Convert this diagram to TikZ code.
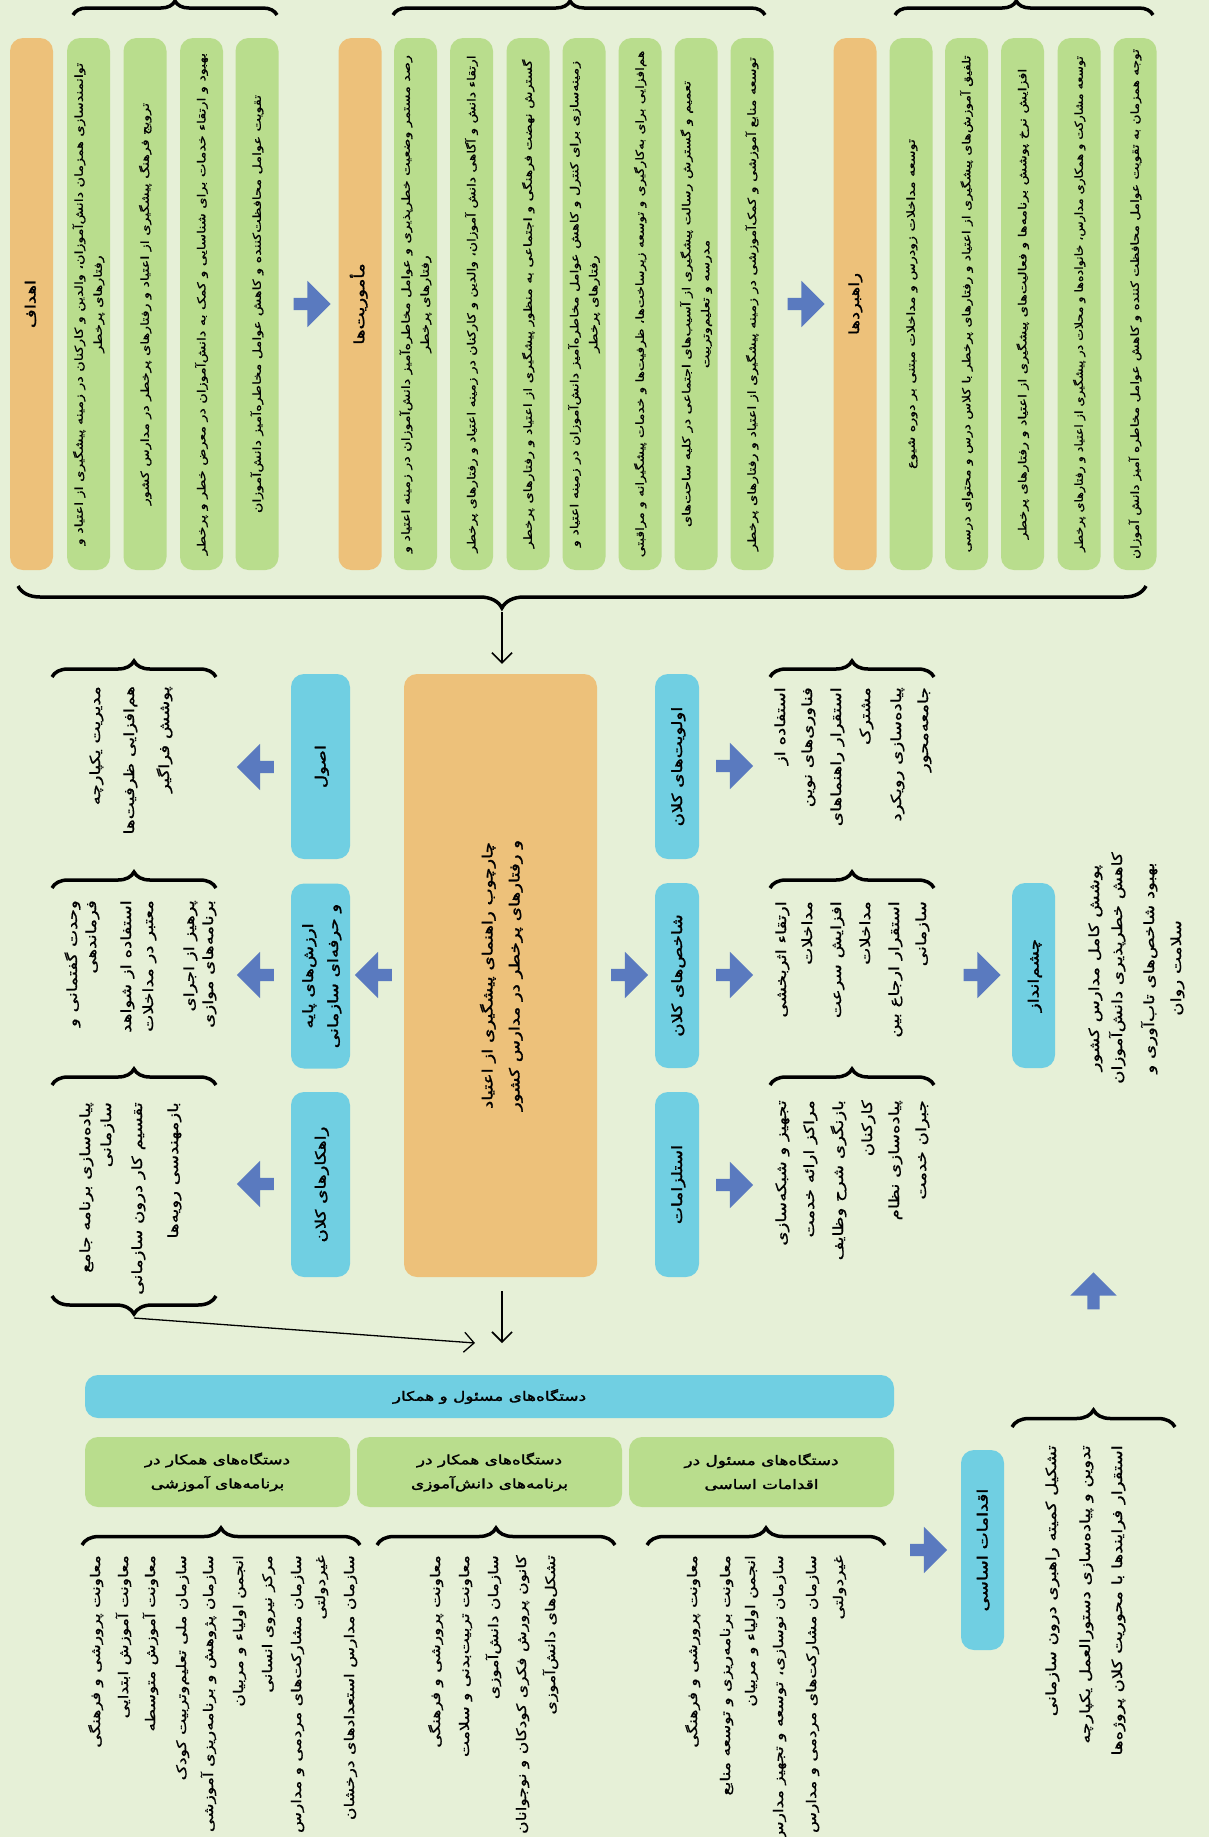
\documentclass[tikz,border=0pt]{standalone}
\usepackage{fontspec}
\usepackage{graphicx}
\usetikzlibrary{shapes.arrows,decorations.pathreplacing,calc,arrows.meta}
\TeXXeTstate=1
\newfontfamily\fa[Script=Arabic,FakeStretch=1.3,FakeBold=1]{DejaVu Sans}
\newfontfamily\fab[Script=Arabic,FakeStretch=1.3,FakeBold=2]{DejaVu Sans}
\newcommand{\rl}[1]{\beginR#1\endR}
% vertical (rotated) text blocks: centred, centred and squeezed, right-aligned
\newcommand{\VC}[1]{\rotatebox{90}{\begin{tabular}{@{}c@{}}#1\end{tabular}}}
\newcommand{\VCs}[2]{\rotatebox{90}{\scalebox{#1}[1]{\begin{tabular}{@{}c@{}}#2\end{tabular}}}}
\newcommand{\VR}[1]{\rotatebox{90}{\begin{tabular}{@{}r@{}}#1\end{tabular}}}
\definecolor{bg}{HTML}{E6F0D7}
\definecolor{boxgreen}{HTML}{B9DD8D}
\definecolor{boxorange}{HTML}{EDC17A}
\definecolor{boxblue}{HTML}{70CFE2}
\definecolor{arrowblue}{HTML}{5A7ABF}
\begin{document}
\begin{tikzpicture}[x=1pt,y=-1pt,
  card/.style={rounded corners=13pt, inner sep=0pt, draw=none},
  topgreen/.style={card, fill=boxgreen, minimum width=43pt, minimum height=532pt, font=\fa\fontsize{11}{19}\selectfont},
  toporange/.style={card, fill=boxorange, minimum width=43pt, minimum height=532pt, font=\fab\fontsize{14}{20}\selectfont},
  bluecard/.style={card, fill=boxblue, font=\fab\fontsize{14}{25}\selectfont},
  blockarrow/.style={single arrow, fill=arrowblue, draw=none, minimum height=37pt, single arrow head extend=17pt, inner sep=6pt, single arrow tip angle=90, shape border rotate=#1},
  lst/.style={inner sep=0pt, font=\fa\fontsize{14}{20}\selectfont},
  lstb/.style={lst, font=\fa\fontsize{13.2}{20}\selectfont},
  curly/.style args={#1/#2}{decorate, decoration={brace, amplitude=#1, aspect=#2}, line width=3.5pt},
  link/.style={-{Straight Barb[length=10pt,width=20pt]}, line width=1.6pt}
]
\useasboundingbox (0,0) rectangle (1209,1837);
\fill[bg] (0,0) rectangle (1209,1837);

% ---------------- goals, missions, strategies ----------------
\node[toporange] (goals) at (31.5,304) {\VC{\rl{اهداف}}};
\node[topgreen] (goal1) at (88.5,304) {\VC{\rl{توانمندسازی همزمان دانش‌آموزان، والدین و کارکنان در زمینه پیشگیری از اعتیاد و}\\ \rl{رفتارهای پرخطر}}};
\node[topgreen] (goal2) at (145,304) {\VC{\rl{ترویج فرهنگ پیشگیری از اعتیاد و رفتارهای پرخطر در مدارس کشور}}};
\node[topgreen] (goal3) at (201.5,304) {\VC{\rl{بهبود و ارتقاء خدمات برای شناسایی و کمک به دانش‌آموزان در معرض خطر و پرخطر}}};
\node[topgreen] (goal4) at (257,304) {\VC{\rl{تقویت عوامل محافظت‌کننده و کاهش عوامل مخاطره‌آمیز دانش‌آموزان}}};
\node[blockarrow=0] (arr1) at (309,304) {};

\node[toporange] (missions) at (360,304) {\VC{\rl{مأموریت‌ها}}};
\node[topgreen] (mis1) at (415.5,304) {\VC{\rl{رصد مستمر وضعیت خطرپذیری و عوامل مخاطره‌آمیز دانش‌آموزان در زمینه اعتیاد و}\\ \rl{رفتارهای پرخطر}}};
\node[topgreen] (mis2) at (471.5,304) {\VCs{0.97}{\rl{ارتقاء دانش و آگاهی دانش آموزان، والدین و کارکنان در زمینه اعتیاد و رفتارهای پرخطر}}};
\node[topgreen] (mis3) at (528,304) {\VC{\rl{گسترش نهضت فرهنگی و اجتماعی به منظور پیشگیری از اعتیاد و رفتارهای پرخطر}}};
\node[topgreen] (mis4) at (584,304) {\VC{\rl{زمینه‌سازی برای کنترل و کاهش عوامل مخاطره‌آمیز دانش‌آموزان در زمینه اعتیاد و}\\ \rl{رفتارهای پرخطر}}};
\node[topgreen] (mis5) at (640,304) {\VCs{0.96}{\rl{هم‌افزایی برای به‌کارگیری و توسعه زیرساخت‌ها، ظرفیت‌ها و خدمات پیشگیرانه و مراقبتی}}};
\node[topgreen] (mis6) at (696,304) {\VC{\rl{تعمیم و گسترش رسالت پیشگیری از آسیب‌های اجتماعی در کلیه ساحت‌های}\\ \rl{مدرسه و تعلیم‌وتربیت}}};
\node[topgreen] (mis7) at (752,304) {\VC{\rl{توسعه منابع آموزشی و کمک‌آموزشی در زمینه پیشگیری از اعتیاد و رفتارهای پرخطر}}};
\node[blockarrow=0] (arr2) at (803,304) {};

\node[toporange, font=\fa\fontsize{14}{20}\selectfont] (strategies) at (855,304) {\VC{\rl{راهبردها}}};
\node[topgreen] (str1) at (911,304) {\VC{\rl{توسعه مداخلات زودرس و مداخلات مبتنی بر دوره شیوع}}};
\node[topgreen] (str2) at (966.5,304) {\VCs{0.97}{\rl{تلفیق آموزش‌های پیشگیری از اعتیاد و رفتارهای پرخطر با کلاس درس و محتوای درسی}}};
\node[topgreen] (str3) at (1022.5,304) {\VC{\rl{افزایش نرخ پوشش برنامه‌ها و فعالیت‌های پیشگیری از اعتیاد و رفتارهای پرخطر}}};
\node[topgreen] (str4) at (1079,304) {\VCs{0.88}{\rl{توسعه مشارکت و همکاری مدارس، خانواده‌ها و محلات در پیشگیری از اعتیاد و رفتارهای پرخطر}}};
\node[topgreen] (str5) at (1135,304) {\VCs{0.96}{\rl{توجه همزمان به تقویت عوامل محافظت کننده و کاهش عوامل مخاطره آمیز دانش آموزان}}};

\draw[curly=14pt/0.5] (73,15) -- (277,15);
\draw[curly=14pt/0.476] (393,15) -- (765,15);
\draw[curly=14pt/0.47] (895,15) -- (1153,15);
\draw[curly=22pt/0.571] (1146,586) -- (18,586);
\coordinate (bigtip) at (502,612);

% ---------------- framework ----------------
\node[card, fill=boxorange, minimum width=193pt, minimum height=603pt, font=\fab\fontsize{14}{27}\selectfont] (frame) at (500.5,975.5)
  {\VC{\rl{چارچوب راهنمای پیشگیری از اعتیاد}\\ \rl{و رفتارهای پرخطر در مدارس کشور}}};
\draw[link] (bigtip) -- ($(frame.north)+(1.5,-10)$);

\node[bluecard, minimum width=59pt, minimum height=185pt] (usul) at (320.5,766.5) {\VC{\rl{اصول}}};
\node[bluecard, minimum width=59pt, minimum height=185pt] (arzesh) at (320.5,976) {\VC{\rl{ارزش‌های پایه}\\ \rl{و حرفه‌ای سازمانی}}};
\node[bluecard, minimum width=59pt, minimum height=185pt] (rahkar) at (320.5,1184.5) {\VC{\rl{راهکارهای کلان}}};
\node[bluecard, minimum width=44pt, minimum height=185pt] (olaviat) at (677,766.5) {\VC{\rl{اولویت‌های کلان}}};
\node[bluecard, minimum width=44pt, minimum height=185pt] (shakhes) at (677,975.5) {\VC{\rl{شاخص‌های کلان}}};
\node[bluecard, minimum width=44pt, minimum height=185pt] (estelzam) at (677,1184.5) {\VC{\rl{استلزامات}}};
\node[bluecard, minimum width=43pt, minimum height=185pt] (vision) at (1033.5,975.5) {\VC{\rl{چشم‌انداز}}};

\node[blockarrow=180] (al1) at (258.5,767) {};
\node[blockarrow=180] (al2) at (258.5,975) {};
\node[blockarrow=180] (al3) at (258.5,1184) {};
\node[blockarrow=180] (ac1) at (376.5,975) {};
\node[blockarrow=0] (ac2) at (626.5,975) {};
\node[blockarrow=0] (ar1) at (731.5,766) {};
\node[blockarrow=0] (ar2) at (731.5,975) {};
\node[blockarrow=0] (ar3) at (731.5,1185) {};
\node[blockarrow=0] (av) at (979,975) {};
\node[blockarrow=90] (aup) at (1093.5,1294) {};

% list braces
\draw[curly=16pt/0.5] (52,677) -- (216,677);
\draw[curly=16pt/0.5] (52,888) -- (216,888);
\draw[curly=16pt/0.5] (52,1085) -- (216,1085);
\draw[curly=18pt/0.5] (216,1296) -- (52,1296);
\coordinate (rtip) at (134,1318);
\draw[curly=16pt/0.5] (770,677) -- (934,677);
\draw[curly=16pt/0.5] (770,888) -- (934,888);
\draw[curly=16pt/0.5] (770,1085) -- (934,1085);

% list texts
\foreach \x/\t [count=\i] in {96/{مدیریت یکپارچه},130/{هم‌افزایی ظرفیت‌ها},165/{پوشش فراگیر}}
  \node[lst, anchor=north] (lusul-\i) at (\x,686) {\VR{\rl{\t}}};
\foreach \x/\t [count=\i] in {73/{وحدت گفتمانی و},92/{فرماندهی},127/{استفاده از شواهد},149/{معتبر در مداخلات},190/{پرهیز از اجرای},209/{برنامه‌های موازی}}
  \node[lst, anchor=north] (larzesh-\i) at (\x,900) {\VR{\rl{\t}}};
\foreach \x/\t [count=\i] in {86/{پیاده‌سازی برنامه جامع},107/{سازمانی},138/{تقسیم کار درون سازمانی},174/{بازمهندسی رویه‌ها}}
  \node[lst, anchor=north] (lrahkar-\i) at (\x,1102) {\VR{\rl{\t}}};
\foreach \x/\t [count=\i] in {781/{استفاده از},808/{فناوری‌های نوین},837/{استقرار راهنماهای},866/{مشترک},897/{پیاده‌سازی رویکرد},924/{جامعه‌محور}}
  \node[lst, anchor=north] (lolaviat-\i) at (\x,687) {\VR{\rl{\t}}};
\foreach \x/\t [count=\i] in {782/{ارتقاء اثربخشی},808/{مداخلات},837/{افزایش سرعت},866/{مداخلات},895/{استقرار ارجاع بین},922/{سازمانی}}
  \node[lst, anchor=north] (lshakhes-\i) at (\x,901) {\VR{\rl{\t}}};
\foreach \x/\t [count=\i] in {782/{تجهیز و شبکه‌سازی},810/{مراکز ارائه خدمت},839/{بازنگری شرح وظایف},868/{کارکنان},895/{پیاده‌سازی نظام},922/{جبران خدمت}}
  \node[lst, anchor=north] (lestelzam-\i) at (\x,1100) {\VR{\rl{\t}}};
\foreach \x/\t [count=\i] in {1095/{پوشش کامل مدارس کشور},1118/{کاهش خطرپذیری دانش‌آموزان},1150/{بهبود شاخص‌های تاب‌آوری و},1177/{سلامت روان}}
  \node[lst] (lvision-\i) at (\x,968) {\VC{\rl{\t}}};

% ---------------- executive bodies ----------------
\node[card, fill=boxblue, minimum width=809pt, minimum height=43pt, font=\fab\fontsize{13}{20}\selectfont] (bar) at (489.5,1396.5) {\rl{دستگاه‌های مسئول و همکار}};
\node[card, fill=boxgreen, minimum width=265pt, minimum height=70pt, font=\fab\fontsize{13}{24}\selectfont, align=center] (gb1) at (217.5,1472) {\rl{دستگاه‌های همکار در}\\ \rl{برنامه‌های آموزشی}};
\node[card, fill=boxgreen, minimum width=265pt, minimum height=70pt, font=\fab\fontsize{13}{24}\selectfont, align=center] (gb2) at (489.5,1472) {\rl{دستگاه‌های همکار در}\\ \rl{برنامه‌های دانش‌آموزی}};
\node[card, fill=boxgreen, minimum width=265pt, minimum height=70pt, font=\fab\fontsize{13}{24}\selectfont, align=center] (gb3) at (761.5,1472) {\rl{دستگاه‌های مسئول در}\\ \rl{اقدامات اساسی}};

\coordinate (downend) at (502,1343);
\coordinate (slantend) at (475,1343);
\draw[link] ($(frame.south)+(1.5,14)$) -- (downend);
\draw[link, line width=1.3pt] (rtip) -- (slantend);

\draw[curly=17pt/0.5] (82,1545) -- (360,1545);
\draw[curly=17pt/0.5] (377,1545) -- (615,1545);
\draw[curly=17pt/0.5] (647,1545) -- (885,1545);

\foreach \x/\t [count=\i] in {96/{معاونت پرورشی و فرهنگی},124/{معاونت آموزش ابتدایی},151/{معاونت آموزش متوسطه},182/{سازمان ملی تعلیم‌وتربیت کودک},209/{سازمان پژوهش و برنامه‌ریزی آموزشی},239/{انجمن اولیاء و مربیان},268/{مرکز نیروی انسانی},297/{سازمان مشارکت‌های مردمی و مدارس},321/{غیردولتی},350/{سازمان مدارس استعدادهای درخشان}}
  \node[lstb, anchor=north] (lbody1-\i) at (\x,1555) {\VR{\rl{\t}}};
\foreach \x/\t [count=\i] in {436/{معاونت پرورشی و فرهنگی},465/{معاونت تربیت‌بدنی و سلامت},494/{سازمان دانش‌آموزی},522/{کانون پرورش فکری کودکان و نوجوانان},551/{تشکل‌های دانش‌آموزی}}
  \node[lstb, anchor=north] (lbody2-\i) at (\x,1555) {\VR{\rl{\t}}};
\foreach \x/\t [count=\i] in {693/{معاونت پرورشی و فرهنگی},726/{معاونت برنامه‌ریزی و توسعه منابع},751/{انجمن اولیاء و مربیان},779/{سازمان نوسازی، توسعه و تجهیز مدارس},812/{سازمان مشارکت‌های مردمی و مدارس},839/{غیردولتی}}
  \node[lstb, anchor=north] (lbody3-\i) at (\x,1555) {\VR{\rl{\t}}};

\node[blockarrow=0] (ae) at (925.5,1550) {};
\node[bluecard, minimum width=43pt, minimum height=200pt] (eqdam) at (982.5,1550) {\VC{\rl{اقدامات اساسی}}};
\draw[curly=17pt/0.5] (1012,1427) -- (1175,1427);
\foreach \x/\t [count=\i] in {1052/{تشکیل کمیته راهبری درون سازمانی},1086/{تدوین و پیاده‌سازی دستورالعمل یکپارچه},1118/{استقرار فرایندها با محوریت کلان پروژه‌ها}}
  \node[lst, anchor=north] (leqdam-\i) at (\x,1445) {\VR{\rl{\t}}};
\end{tikzpicture}
\end{document}
